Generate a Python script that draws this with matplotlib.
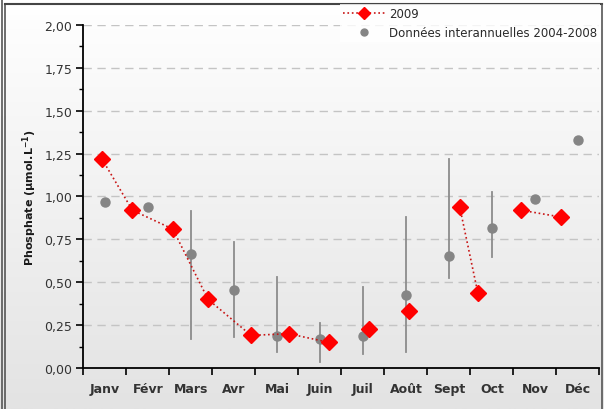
import numpy as np
import matplotlib
matplotlib.use("Agg")
import matplotlib.pyplot as plt
from matplotlib.lines import Line2D
from matplotlib.colors import LinearSegmentedColormap

months = ['Janv', 'Févr', 'Mars', 'Avr', 'Mai', 'Juin', 'Juil', 'Août', 'Sept', 'Oct', 'Nov', 'Déc']

# 2009 samples (position in month units, value)
x2009 = [0.43, 1.14, 2.08, 2.90, 3.90, 4.77, 5.70, 6.63, 7.57, 8.75, 9.17, 10.18, 11.11]
y2009 = [1.22, 0.92, 0.81, 0.40, 0.19, 0.20, 0.15, 0.23, 0.33, 0.94, 0.44, 0.92, 0.88]
# connected groups of 2009 points (indices)
groups2009 = [[0, 1, 2, 3, 4, 5, 6], [7], [8], [9, 10], [11, 12]]

# Interannual 2004-2008 (mean, min, max)
inter_mean = [0.97, 0.94, 0.665, 0.455, 0.185, 0.17, 0.185, 0.425, 0.655, 0.815, 0.985, 1.33]
inter_low = [np.nan, np.nan, 0.17, 0.18, 0.095, 0.035, 0.08, 0.095, 0.525, 0.645, np.nan, np.nan]
inter_high = [np.nan, np.nan, 0.915, 0.735, 0.53, 0.26, 0.47, 0.88, 1.22, 1.025, np.nan, np.nan]

yticks = [0.0, 0.25, 0.5, 0.75, 1.0, 1.25, 1.5, 1.75, 2.0]

fig = plt.figure(figsize=(6.04, 4.10), dpi=100)

# background gradient
bg = fig.add_axes([0, 0, 1, 1], zorder=-10)
grad = np.linspace(0.0, 1.0, 256).reshape(-1, 1)
cmap = LinearSegmentedColormap.from_list('g', ['#ffffff', '#e3e3e3'])
bg.imshow(grad, aspect='auto', cmap=cmap, extent=[0, 1, 0, 1], origin='upper')
bg.set_axis_off()

ax = fig.add_axes([0.138, 0.100, 0.8545, 0.8366])
ax.set_facecolor('none')

# gridlines
for yv in yticks[1:]:
    ax.axhline(yv, color='#c4c4c4', lw=1.0, ls=(0, (6, 4)), zorder=1)

xc = np.arange(len(months)) + 0.5
mean = np.array(inter_mean)
lo = np.array(inter_low)
hi = np.array(inter_high)
for x, l, h in zip(xc, lo, hi):
    if not np.isnan(l):
        ax.plot([x, x], [l, h], color='#8c8c8c', lw=1.3, zorder=2)
ax.plot(xc, mean, 'o', color='#858585', ms=6.5, zorder=3, mec='#858585')

xa = np.array(x2009)
ya = np.array(y2009)
for g in groups2009:
    if len(g) > 1:
        ax.plot(xa[g], ya[g], ls=':', color='#c81414', lw=1.2, zorder=4)
ax.plot(xa, ya, 'D', color='#ff0000', ms=8, mec='#ff0000', zorder=5)

ax.set_xlim(0, 12)
ax.set_ylim(0, 2.0)
ax.set_yticks(yticks)
ax.set_yticklabels([f"{v:.2f}".replace('.', ',') for v in yticks])
ax.set_yticks(np.arange(0.125, 2.0, 0.25), minor=True)
ax.set_xticks(np.arange(0, 13))
ax.set_xticklabels([])
ax.set_xticks(xc, minor=True)
ax.set_xticklabels(months, minor=True, fontweight='bold', fontsize=9, color='#333333')
ax.tick_params(axis='x', which='minor', length=0, pad=10)
ax.tick_params(axis='x', which='major', length=5, width=1.2, direction='out', color='black')
ax.tick_params(axis='y', which='major', length=5, width=1.2, direction='out', labelsize=9,
               labelcolor='#333333', pad=3)
ax.tick_params(axis='y', which='minor', length=3, width=1.0, direction='out')
for s in ['top', 'right']:
    ax.spines[s].set_visible(False)
for s in ['left', 'bottom']:
    ax.spines[s].set_linewidth(1.3)
    ax.spines[s].set_color('black')

ax.set_ylabel(r'Phosphate (µmol.L$^{\mathbf{-1}}$)', fontsize=8, fontweight='bold',
              color='#1a1a1a', labelpad=4)

h1 = Line2D([], [], ls=':', color='#c81414', lw=1.2, marker='D', mfc='#ff0000', mec='#ff0000', ms=6)
h2 = Line2D([], [], ls='none', marker='o', color='#858585', ms=5)
leg = fig.legend([h1, h2], ['2009', 'Données interannuelles 2004-2008'],
                 loc='upper right', bbox_to_anchor=(0.993, 0.988), frameon=True,
                 fontsize=8.5, handlelength=3.6, handletextpad=0.3, labelspacing=0.55,
                 borderpad=0.25, borderaxespad=0.0)
leg.get_frame().set_facecolor('white')
leg.get_frame().set_edgecolor('none')
leg.get_frame().set_boxstyle('square', pad=0.0)
for t in leg.get_texts():
    t.set_color('#2a2a2a')

# figure frame
W, H = 604, 410
def fx(px):
    return px / W
def fy(py):
    return 1 - py / H
fig.add_artist(Line2D([fx(1.5), fx(1.5)], [0, 1], color='#555555', lw=1.2))
fig.add_artist(Line2D([fx(5), fx(5)], [0, fy(5)], color='#555555', lw=1.2))
fig.add_artist(Line2D([fx(5), fx(602)], [fy(5), fy(5)], color='#444444', lw=1.5))
fig.add_artist(Line2D([fx(602), fx(602)], [0, fy(5)], color='#555555', lw=1.2))

fig.savefig('out.png', dpi=100)
